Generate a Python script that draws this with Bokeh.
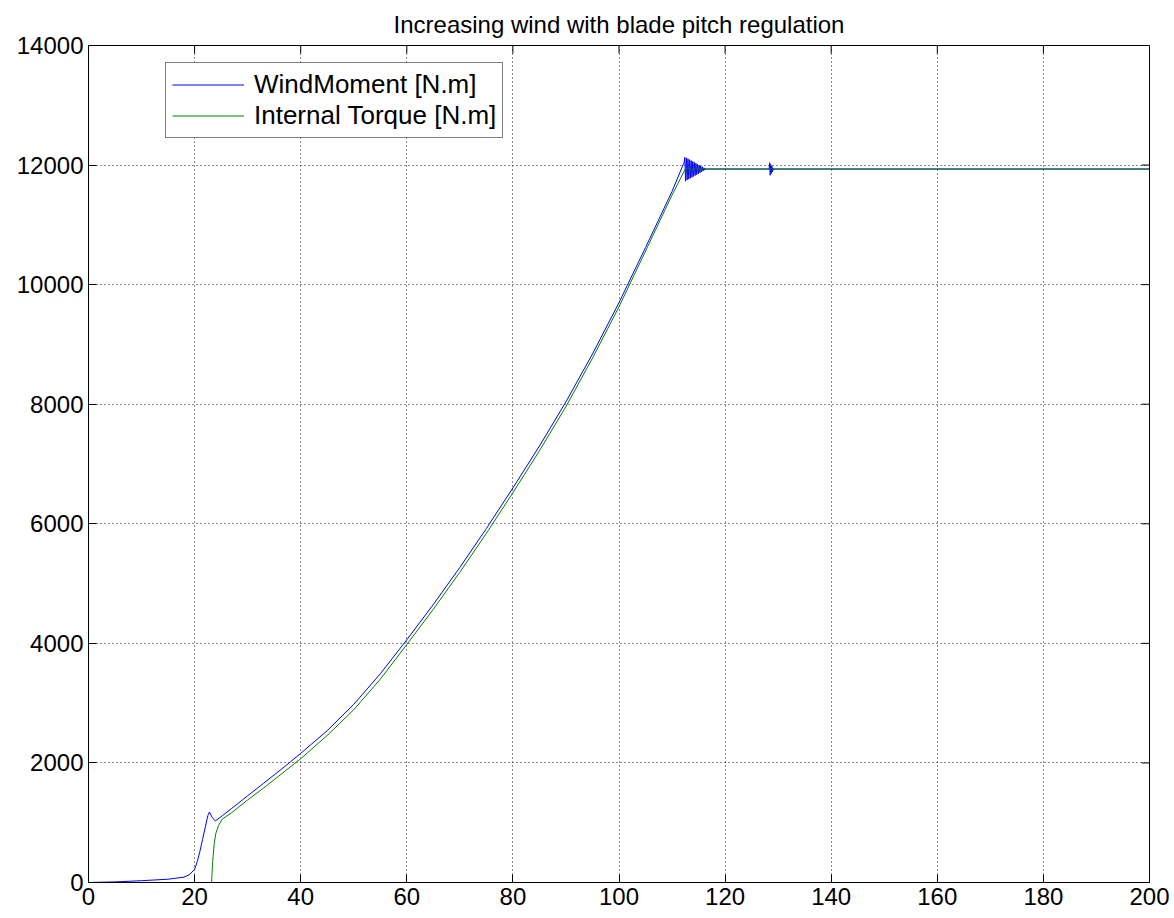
from bokeh.plotting import figure
from bokeh.models import Range1d, Legend, LegendItem, FixedTicker
from bokeh.embed import file_html
from bokeh.resources import INLINE

title_text = "Increasing wind with blade pitch regulation"
x_ticks = [0, 20, 40, 60, 80, 100, 120, 140, 160, 180, 200]
y_ticks = [0, 2000, 4000, 6000, 8000, 10000, 12000, 14000]

# WindMoment [N.m]
wind_t = [0, 5, 10, 15, 18, 19, 20, 20.5, 21, 21.5, 22, 22.5, 22.8, 23.3, 23.9, 25.2, 27, 30,
          33, 35, 37, 40, 45, 50, 55, 60, 65, 70, 75, 80, 85, 90, 95, 100, 105, 110, 112.3,
          112.4, 112.55, 112.7, 112.85, 113.0, 113.15, 113.3, 113.45, 113.6, 113.75,
          113.9, 114.05, 114.2, 114.35, 114.5, 114.65, 114.8, 114.95, 115.1, 115.25,
          115.4, 115.55, 115.7, 115.85, 116.0, 116.15, 116.3, 116.45, 116.6, 116.8,
          128.3, 128.4, 128.5, 128.6, 128.7, 128.8, 128.9, 129.0, 129.1, 129.2, 200]
wind_v = [0, 10, 30, 55, 90, 130, 220, 350, 520, 720, 920, 1120, 1180, 1090, 1030, 1115, 1240, 1450,
          1660, 1800, 1940, 2160, 2540, 2980, 3490, 4060, 4650, 5270, 5920, 6600, 7300, 8040, 8840, 9700, 10620, 11560, 12050,
          12130, 11730, 12120, 11750, 12105, 11765, 12090, 11780, 12075, 11795,
          12060, 11810, 12045, 11825, 12030, 11840, 12015, 11855, 12000, 11870,
          11985, 11885, 11970, 11900, 11955, 11915, 11945, 11925, 11938, 11934,
          11934, 12040, 11830, 12010, 11860, 11985, 11890, 11955, 11915, 11934, 11934]

# Internal Torque [N.m]
torque_t = [0, 23.2, 23.4, 23.7, 24.0, 24.5, 25.2, 27, 30, 33, 35, 37, 40, 45, 50, 55, 60, 65, 70,
            75, 80, 85, 90, 95, 100, 105, 110, 112.5, 117, 200]
torque_v = [0, 0, 350, 650, 820, 950, 1060, 1170, 1380, 1580, 1720, 1860, 2070, 2460, 2890, 3400, 3980, 4570, 5190,
            5840, 6520, 7220, 7960, 8770, 9630, 10560, 11500, 11934, 11934, 11934]

FONT = "Liberation Sans"
TICK_PX = 8

p = figure(width=1174, height=918, output_backend="svg", toolbar_location=None,
           x_range=Range1d(0, 200), y_range=Range1d(0, 14000),
           min_border_left=88, min_border_right=25, min_border_top=45, min_border_bottom=36)
p.title.text = title_text
p.title.align = "center"
p.title.text_font = FONT
p.title.text_font_size = "24px"
p.title.text_font_style = "normal"
p.title.text_color = "black"
p.title.standoff = 16
p.outline_line_color = "black"
p.outline_line_width = 1
p.background_fill_color = "white"
p.border_fill_color = "white"

for ax in (p.xaxis[0], p.yaxis[0]):
    ax.major_label_text_font = FONT
    ax.major_label_text_font_size = "24px"
    ax.major_label_text_color = "black"
    ax.major_tick_in = TICK_PX
    ax.major_tick_out = 0
    ax.minor_tick_in = 0
    ax.minor_tick_out = 0
    ax.axis_line_color = "black"
    ax.major_tick_line_color = "black"
    ax.major_label_standoff = 5
p.xaxis[0].ticker = FixedTicker(ticks=x_ticks)
p.yaxis[0].ticker = FixedTicker(ticks=y_ticks)

p.xgrid.ticker = FixedTicker(ticks=x_ticks)
p.ygrid.ticker = FixedTicker(ticks=y_ticks)
for g in (p.xgrid[0], p.ygrid[0]):
    g.grid_line_color = "black"
    g.grid_line_dash = "1 3"
    g.grid_line_width = 1
    g.grid_line_alpha = 0.9

# inward tick marks on the top and right edges (box style), derived from the tick lists
frame_w = 1174 - 88 - 25
frame_h = 918 - 45 - 36
x_lo, x_hi = x_ticks[0], x_ticks[-1]
y_lo, y_hi = y_ticks[0], y_ticks[-1]
dy = TICK_PX * (y_hi - y_lo) / frame_h
dx = TICK_PX * (x_hi - x_lo) / frame_w
p.segment(x0=x_ticks, y0=[y_hi] * len(x_ticks), x1=x_ticks, y1=[y_hi - dy] * len(x_ticks),
          line_color="black", line_width=1)
p.segment(x0=[x_hi] * len(y_ticks), y0=y_ticks, x1=[x_hi - dx] * len(y_ticks), y1=y_ticks,
          line_color="black", line_width=1)

r1 = p.line(wind_t, wind_v, line_color="#0000ff", line_width=1)
r2 = p.line(torque_t, torque_v, line_color="#008000", line_width=1)

legend = Legend(items=[LegendItem(label="WindMoment [N.m]", renderers=[r1]),
                       LegendItem(label="Internal Torque [N.m]", renderers=[r2])],
                location=(77, 744))
legend.label_text_font = FONT
legend.label_text_font_size = "26px"
legend.label_text_color = "black"
legend.border_line_color = "black"
legend.border_line_width = 1
legend.background_fill_color = "white"
legend.background_fill_alpha = 1
legend.glyph_width = 72
legend.glyph_height = 29
legend.label_height = 29
legend.label_standoff = 10
legend.spacing = 0
legend.padding = 6
legend.margin = 0
p.add_layout(legend, "center")

open("out.html", "w").write(file_html(p, INLINE))
